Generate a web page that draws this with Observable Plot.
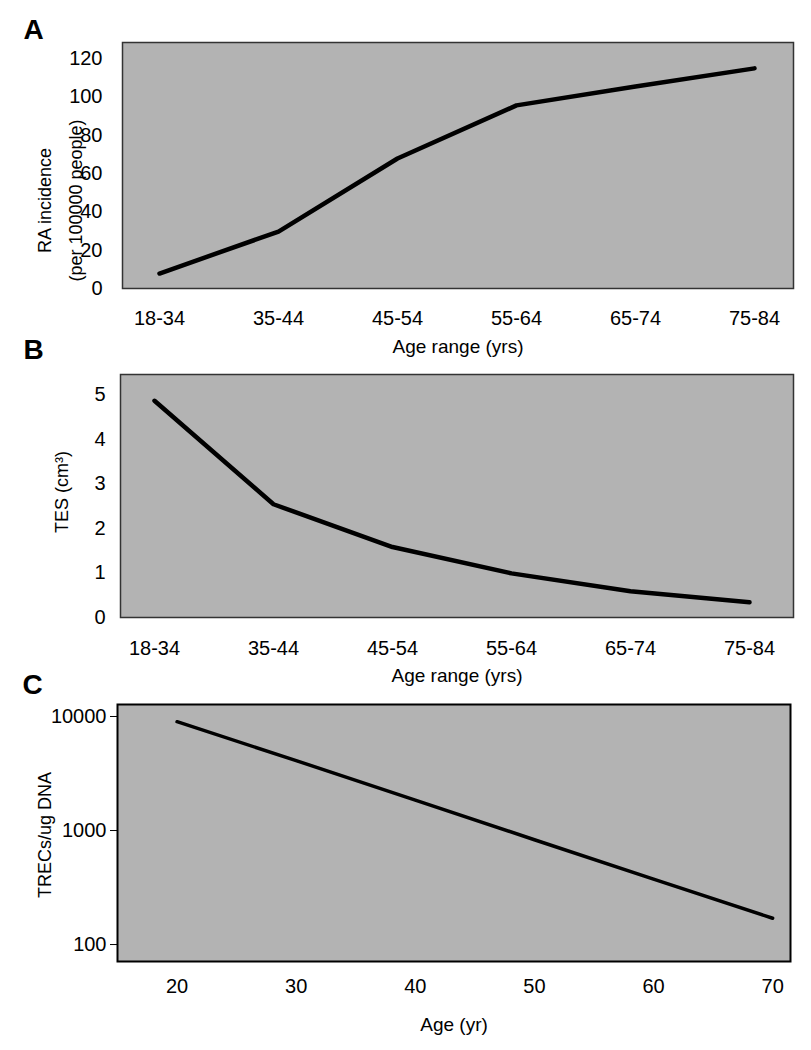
<!DOCTYPE html>
<html><head><meta charset="utf-8">
<script src="https://cdn.jsdelivr.net/npm/d3@7"></script>
<script src="https://cdn.jsdelivr.net/npm/@observablehq/plot@0.6"></script>
<style>
body{margin:0;background:#fff;width:811px;height:1050px;position:relative;overflow:hidden;}
.panel{position:absolute;left:0;}
</style></head><body>
<div id="a" class="panel" style="top:0px"></div>
<div id="b" class="panel" style="top:340px"></div>
<div id="c" class="panel" style="top:690px"></div>
<script>
// ---- data ----
const ageRanges = ["18-34", "35-44", "45-54", "55-64", "65-74", "75-84"];
const raIncidence = [7.8, 29.7, 67.8, 95.5, 105.4, 114.8];
const tesVolume = [4.86, 2.54, 1.58, 0.99, 0.59, 0.34];
const trecAges = [20, 30, 40, 50, 60, 70];
const trecValues = [9000, 4100, 1850, 830, 375, 170];
const ticksA = [0, 20, 40, 60, 80, 100, 120];
const ticksB = [0, 1, 2, 3, 4, 5];
const ticksCx = [20, 30, 40, 50, 60, 70];
const ticksCy = [100, 1000, 10000];
const titleA = "RA incidence\n(per 100000 people)";
const titleB = "TES (cm³)";
const titleC = "TRECs/ug DNA";
const xTitleAB = "Age range (yrs)";
const xTitleC = "Age (yr)";

const FONT = '"Liberation Sans",Arial,sans-serif';
const style = {fontFamily: FONT, fontSize: "20px", color: "#000", background: "transparent", overflow: "visible"};
const GRAY = "#b3b3b3";
const fmt = d => String(d);

const dataA = ageRanges.map((a, i) => ({age: a, v: raIncidence[i]}));
const dataB = ageRanges.map((a, i) => ({age: a, v: tesVolume[i]}));
const dataC = trecAges.map((a, i) => ({age: a, v: trecValues[i]}));

const A = Plot.plot({
  width: 811, height: 360,
  marginTop: 42, marginBottom: 72, marginLeft: 122, marginRight: 18,
  style,
  x: {type: "point", domain: ageRanges, padding: 0, insetLeft: 36, insetRight: 39},
  y: {domain: [0, 128.3]},
  marks: [
    Plot.frame({fill: GRAY, stroke: "#333", strokeWidth: 1.5}),
    Plot.axisX({tickSize: 0, tickPadding: 22, label: null}),
    Plot.axisY({ticks: ticksA, tickSize: 0, tickPadding: 20, label: null, tickFormat: fmt}),
    Plot.line(dataA, {x: "age", y: "v", stroke: "#000", strokeWidth: 4.5}),
    Plot.text([titleA], {frameAnchor: "left", rotate: -90, dx: -66, dy: 35, textAnchor: "middle", lineAnchor: "middle", lineHeight: 1.75, fontSize: 18}),
    Plot.text([xTitleAB], {frameAnchor: "bottom", dy: 58, textAnchor: "middle", lineAnchor: "middle", fontSize: 19}),
    Plot.text(["A"], {frameAnchor: "top-left", dx: -89, dy: -12, textAnchor: "middle", lineAnchor: "middle", fontSize: 28, fontWeight: "bold"})
  ]
});
document.getElementById("a").append(A);

const B = Plot.plot({
  width: 811, height: 350,
  marginTop: 34, marginBottom: 73, marginLeft: 120, marginRight: 18,
  style,
  x: {type: "point", domain: ageRanges, padding: 0, insetLeft: 33, insetRight: 43},
  y: {domain: [0, 5.45]},
  marks: [
    Plot.frame({fill: GRAY, stroke: "#333", strokeWidth: 1.5}),
    Plot.axisX({tickSize: 0, tickPadding: 23, label: null}),
    Plot.axisY({ticks: ticksB, tickSize: 0, tickPadding: 15, label: null, tickFormat: fmt}),
    Plot.line(dataB, {x: "age", y: "v", stroke: "#000", strokeWidth: 4.5}),
    Plot.text([titleB], {frameAnchor: "left", rotate: -90, dx: -58, dy: -4, textAnchor: "middle", lineAnchor: "middle", fontSize: 18}),
    Plot.text([xTitleAB], {frameAnchor: "bottom", dy: 58, textAnchor: "middle", lineAnchor: "middle", fontSize: 19}),
    Plot.text(["B"], {frameAnchor: "top-left", dx: -87, dy: -24, textAnchor: "middle", lineAnchor: "middle", fontSize: 28, fontWeight: "bold"})
  ]
});
document.getElementById("b").append(B);

const C = Plot.plot({
  width: 811, height: 360,
  marginTop: 14, marginBottom: 89, marginLeft: 117, marginRight: 21,
  style,
  x: {domain: [15.0, 71.5]},
  y: {type: "log", domain: [71, 12740]},
  marks: [
    Plot.frame({fill: GRAY, stroke: "#000", strokeWidth: 2}),
    Plot.axisX({ticks: ticksCx, tickSize: 0, tickPadding: 17, label: null, tickFormat: fmt}),
    Plot.axisY({ticks: ticksCy, tickSize: 7, tickPadding: 4, label: null, tickFormat: fmt}),
    Plot.line(dataC, {x: "age", y: "v", stroke: "#000", strokeWidth: 3.5}),
    Plot.text([titleC], {frameAnchor: "left", rotate: -90, dx: -72, dy: 2, textAnchor: "middle", lineAnchor: "middle", fontSize: 18}),
    Plot.text([xTitleC], {frameAnchor: "bottom", dy: 63, textAnchor: "middle", lineAnchor: "middle", fontSize: 19}),
    Plot.text(["C"], {frameAnchor: "top-left", dx: -85, dy: -19, textAnchor: "middle", lineAnchor: "middle", fontSize: 28, fontWeight: "bold"})
  ]
});
document.getElementById("c").append(C);
</script>
</body></html>
